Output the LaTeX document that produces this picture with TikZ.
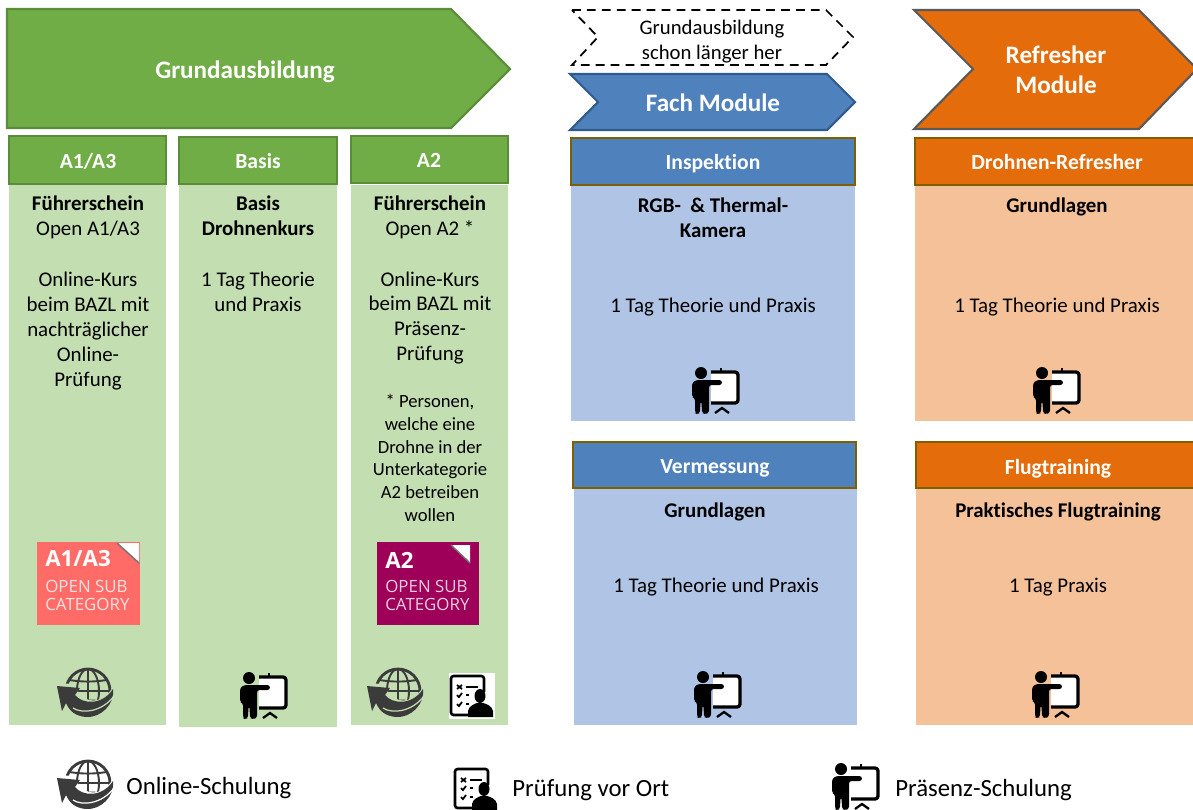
\documentclass[tikz,border=0pt]{standalone}
\usepackage{fontspec}
\setmainfont[Ligatures=NoCommon]{Carlito}
\newfontfamily\badgefont{Open Sans}
\definecolor{gmain}{HTML}{70AD47}
\definecolor{gedge}{HTML}{5B8C3A}
\definecolor{gbody}{HTML}{C3DEB1}
\definecolor{bmain}{HTML}{4F81BD}
\definecolor{bedge}{HTML}{2F5A8C}
\definecolor{bbody}{HTML}{B0C4E5}
\definecolor{omain}{HTML}{E46C0A}
\definecolor{oedge}{HTML}{595959}
\definecolor{obody}{HTML}{F4C199}
\definecolor{hedge}{HTML}{7F6000}
\definecolor{iconc}{HTML}{3B3B3B}
\definecolor{badgeA}{HTML}{FF6B67}
\definecolor{badgeB}{HTML}{9E0059}
\tikzset{
  x=0.02cm,y=-0.02cm,
  hdr/.style={line width=1.2pt,draw=hedge},
  ghdr/.style={line width=1.2pt,draw=gedge,fill=gmain},
  arrowshape/.style={line width=1.2pt,line join=miter},
  whitebold/.style={text=white,font=\fontsize{12.3}{14}\selectfont\bfseries,align=center,inner sep=0pt},
  bigbold/.style={text=white,font=\fontsize{14.3}{17}\selectfont\bfseries,align=center,inner sep=0pt},
  bodytext/.style={font=\fontsize{11.9}{14.2}\selectfont,align=center,inner sep=0pt,text=black},
  smalltext/.style={font=\fontsize{10.6}{12.9}\selectfont,align=center,inner sep=0pt,text=black},
  legend/.style={font=\fontsize{14.1}{16}\selectfont,anchor=west,inner sep=0pt,text=black},
  badgebig/.style={font=\badgefont\fontsize{12.7}{15}\selectfont\bfseries,text=white,anchor=west,inner sep=0pt},
  badgesmall/.style={font=\badgefont\fontsize{9.6}{10.2}\selectfont,text=white,opacity=.8,text opacity=.8,anchor=west,align=left,inner sep=0pt},
  pics/presenter/.style={code={
    \fill[white] (-5,-19) rectangle (22,12);
    \draw[black,line width=1.9pt,line join=round] (-5,-19) -- (19,-19) to[out=0,in=90] (22,-16) -- (22,9) to[out=-90,in=0] (19,12) -- (-5,12);
    \draw[black,line width=1.4pt] (5,-19) -- (5,-23);
    \fill[black] (-15,-18) circle (6);
    \fill[black,rounded corners=1.5] (-24,-8) -- (-20,-11) -- (-8,-11) -- (6,-11) -- (6,-6) -- (-7,-6) -- (-7,22) -- (-11,23) -- (-14,22) -- (-14.5,10) -- (-15.5,10) -- (-16,22) -- (-19,23) -- (-21,22) -- (-21,7) -- (-24,6) -- cycle;
    \draw[black,line width=1.3pt] (-1,22) -- (6,17) -- (13,22);
  }},
  pics/globe/.style={code={
    \draw[iconc,line width=1.6pt] (0,-1) circle (22);
    \begin{scope}
      \clip (0,-1) circle (22);
      \draw[iconc,line width=1.1pt] (0,-23) -- (0,21);
      \draw[iconc,line width=1.1pt] (-22,-1) -- (22,-1);
      \draw[iconc,line width=1.1pt] (0,-1) ellipse (11 and 22);
      \draw[iconc,line width=1.1pt] (-19,-12) to[bend right=8] (19,-12);
      \draw[iconc,line width=1.1pt] (-19,10) to[bend left=8] (19,10);
    \end{scope}
    \fill[#1] (-34,-9) -- (-14,-8) -- (-8,3) .. controls (4,13) and (16,9) .. (26,-6) .. controls (30,12) and (16,30) .. (-2,28) .. controls (-14,28) and (-26,24) .. (-34,8) -- cycle;
    \fill[iconc] (-31,-6) -- (-8,-4) -- (-13,3) .. controls (-6,12) and (14,14) .. (25,-3) .. controls (27,12) and (13,26) .. (-2,25) .. controls (-12,24) and (-18,20) .. (-22,11) -- (-26,19) -- cycle;
    \draw[#1,line width=.7pt] (-15,16) .. controls (-6,22) and (14,20) .. (26,4);
  }},
  pics/examicon/.style={code={
    \draw[black,line width=1.5pt,rounded corners=1.5,fill=white] (-21,-20) rectangle (12,19);
    \draw[black,line width=1pt] (-15,-11) -- (-10,-7) (-15,-7) -- (-10,-11);
    \draw[black,line width=1pt] (-15,-1) -- (-13,1) -- (-10,-3);
    \draw[black,line width=1pt] (-15,8) -- (-13,10) -- (-10,6);
    \draw[black,line width=1.2pt] (-6,-9) -- (6,-9) (-6,-1) -- (3,-1) (-6,8) -- (1,8);
    \fill[white] (-3,-4) rectangle (23,21);
    \draw[black,line width=1.5pt] (12,-4) -- (12,-10);
    \fill[black] (8,0) ellipse (5.5 and 7);
    \fill[black] (-4,21) -- (-4,15) .. controls (-3,10) and (2,8) .. (5,7) -- (11,7) .. controls (15,8) and (20,10) .. (21,15) -- (21,21) -- cycle;
  }}
}
\begin{document}
\begin{tikzpicture}
\useasboundingbox (0,0) rectangle (1193,809);
\clip (0,0) rectangle (1193,809);
\fill[white] (0,0) rectangle (1193,809);

% big arrows
\draw[arrowshape,draw=gedge,fill=gmain] (7,9) -- (451,9) -- (510,69) -- (451,128) -- (7,128) -- cycle;
\node[bigbold] (tGrund) at (245,72) {Grundausbildung};
\draw[black,line width=1pt,dash pattern=on 5pt off 3.5pt] (572,10) -- (826,10) -- (853,37) -- (826,65) -- (572,65) -- (598,37) -- cycle;
\node[bodytext,font=\fontsize{11.8}{14.2}\selectfont] (tLange) at (712,42) {Grundausbildung\\schon länger her};
\draw[arrowshape,draw=bedge,fill=bmain] (570,74) -- (827,74) -- (855,102) -- (827,130) -- (570,130) -- (598,102) -- cycle;
\node[bigbold] (tFach) at (713,103) {Fach Module};
\draw[arrowshape,draw=oedge,fill=omain] (914,10) -- (1139,10) -- (1197,69) -- (1139,129) -- (914,129) -- (973,69) -- cycle;
\node[bigbold] (tRef) at (1056,70) {Refresher\\Module};

% column bodies
\fill[gbody] (9,185) rectangle (166,725);
\fill[gbody] (179,185) rectangle (337,727);
\fill[gbody] (351,185) rectangle (508,725);
\fill[bbody] (571,186) rectangle (855,421);
\fill[bbody] (574,489) rectangle (857,725);
\fill[obody] (915,186) rectangle (1199,421);
\fill[obody] (916,489) rectangle (1199,725);

% headers
\draw[ghdr] (9,136) rectangle (166,184);
\draw[ghdr] (179,137) rectangle (337,184);
\draw[ghdr] (351,136) rectangle (508,183);
\draw[hdr,fill=bmain] (571,138) rectangle (855,185);
\draw[hdr,fill=bmain] (573,442) rectangle (856,488);
\draw[hdr,fill=omain] (915,138) rectangle (1199,185);
\draw[hdr,fill=omain] (916,442) rectangle (1199,488);
\node[whitebold] (hA) at (88,161) {A1/A3};
\node[whitebold] (hB) at (258,161) {Basis};
\node[whitebold] (hC) at (429,160) {A2};
\node[whitebold] (hI) at (713,164) {Inspektion};
\node[whitebold] (hV) at (715,468) {Vermessung};
\node[whitebold] (hD) at (1057,162) {Drohnen-Refresher};
\node[whitebold] (hF) at (1058,469) {Flugtraining};

% body text
\node[bodytext] (a1) at (88,217.5) {\textbf{Führerschein}\\Open A1/A3};
\node[bodytext] (a2) at (88,331) {Online-Kurs\\beim BAZL mit\\nachträglicher\\Online-\\Prüfung};
\node[bodytext] (b1) at (258,216) {\textbf{Basis}\\\textbf{Drohnenkurs}};
\node[bodytext] (b2) at (258,292) {1 Tag Theorie\\und Praxis};
\node[bodytext] (c1) at (430,217.5) {\textbf{Führerschein}\\Open A2 *};
\node[bodytext] (c2) at (430,318) {Online-Kurs\\beim BAZL mit\\Präsenz-\\Prüfung};
\node[smalltext] (c3) at (430,458) {* Personen,\\welche eine\\Drohne in der\\Unterkategorie\\A2 betreiben\\wollen};
\node[bodytext] (i1) at (713,217.5) {\textbf{RGB-\ \ \&\ Thermal-}\\\textbf{Kamera}};
\node[bodytext] (i2) at (713,307) {1 Tag Theorie und Praxis};
\node[bodytext] (v1) at (715,512) {\textbf{Grundlagen}};
\node[bodytext] (v2) at (716,587) {1 Tag Theorie und Praxis};
\node[bodytext] (d1) at (1057,207) {\textbf{Grundlagen}};
\node[bodytext] (d2) at (1057,307) {1 Tag Theorie und Praxis};
\node[bodytext] (f1) at (1058,512) {\textbf{Praktisches Flugtraining}};
\node[bodytext] (f2) at (1058,587) {1 Tag Praxis};

% badges
\fill[badgeA] (37,542) rectangle (140,625);
\fill[white] (117,543) -- (139,543) -- (139,563) -- cycle;
\draw[black!55,line width=.8pt] (117,543) -- (139,563);
\node[badgebig] (ba1) at (45,559) {A1/A3};
\node[badgesmall] (ba2) at (45,595) {OPEN SUB\\CATEGORY};
\fill[badgeB] (377,542) rectangle (479,625);
\fill[white] (451,545) -- (470,545) -- (470,563) -- cycle;
\draw[black!55,line width=.8pt] (451,545) -- (470,563);
\node[badgebig] (bb1) at (385,560) {A2};
\node[badgesmall] (bb2) at (385,595) {OPEN SUB\\CATEGORY};

% icons
\pic at (88,692) {globe=gbody};
\pic at (264,696) {presenter};
\pic at (398,692) {globe=gbody};
\fill[white] (449,673) rectangle (495,719);
\pic at (472,696) {examicon};
\pic at (716,391) {presenter};
\pic at (1057,391) {presenter};
\pic at (718,695) {presenter};
\pic at (1056,695) {presenter};

% legend
\pic at (88,784) {globe=white};
\node[legend] (l1) at (126,788) {Online-Schulung};
\pic at (476,789) {examicon};
\node[legend] (l2) at (512,790) {Prüfung vor Ort};
\pic at (856,787) {presenter};
\node[legend] (l3) at (895,790) {Präsenz-Schulung};
\end{tikzpicture}
\end{document}
